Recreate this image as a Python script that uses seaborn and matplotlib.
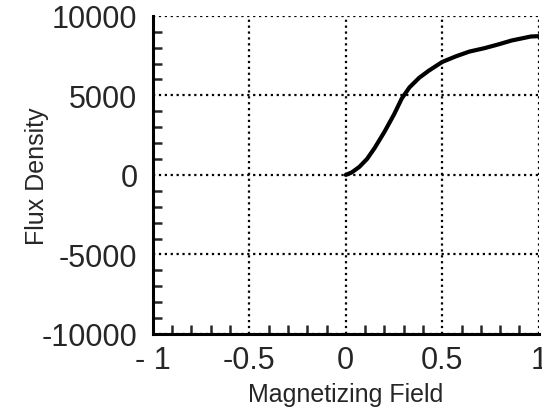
import numpy as np
import pandas as pd
import matplotlib
matplotlib.use('Agg')
import matplotlib.pyplot as plt
import seaborn as sns
from matplotlib.ticker import MultipleLocator

# values
field = [0.0, 0.03, 0.07, 0.11, 0.15, 0.20, 0.25, 0.29, 0.33, 0.38, 0.43, 0.50,
         0.57, 0.64, 0.72, 0.79, 0.86, 0.92, 0.96, 1.0]
flux = [0, 150, 500, 1000, 1700, 2700, 3800, 4800, 5500, 6100, 6550, 7100,
        7450, 7750, 7970, 8200, 8450, 8600, 8700, 8720]

x_ticks = [-1, -0.5, 0, 0.5, 1]
x_labels = ['- 1', '-0.5', '0', '0.5', '1']
y_ticks = [-10000, -5000, 0, 5000, 10000]
y_labels = ['-10000', '-5000', '0', '5000', '10000']

sns.set_style('white')
plt.rcParams['font.family'] = ['Liberation Sans', 'DejaVu Sans']

df = pd.DataFrame({'Magnetizing Field': field, 'Flux Density': flux})

fig = plt.figure(figsize=(5.42, 4.10), dpi=100)
ax = fig.add_axes([0.282, 0.183, 0.712, 0.776])
sns.lineplot(data=df, x='Magnetizing Field', y='Flux Density', color='black',
             linewidth=3, ax=ax)

ax.set_xlim(-1, 1)
ax.set_ylim(-10000, 10000)
ax.set_xticks(x_ticks)
ax.set_xticklabels(x_labels, fontsize=22)
ax.set_yticks(y_ticks)
ax.set_yticklabels(y_labels, fontsize=22)
ax.xaxis.set_minor_locator(MultipleLocator(0.1))
ax.yaxis.set_minor_locator(MultipleLocator(1000))

ax.grid(True, which='major', color='black', linestyle=':', linewidth=1.6)
for s in ['top', 'right']:
    ax.spines[s].set_visible(False)
for s in ['left', 'bottom']:
    ax.spines[s].set_linewidth(2.2)
    ax.spines[s].set_color('black')

ax.tick_params(axis='y', which='major', direction='out', length=11, width=2.2, pad=0)
ax.tick_params(axis='y', which='minor', direction='in', length=6.5, width=1.8, left=True)
ax.tick_params(axis='x', which='major', direction='inout', length=20, width=2.2, pad=-2)
ax.tick_params(axis='x', which='minor', direction='in', length=6.5, width=1.8, bottom=True)

ax.set_xlabel('Magnetizing Field', fontsize=18)
ax.set_ylabel('Flux Density', fontsize=18)
ax.xaxis.set_label_coords(0.5, -0.15)
ax.yaxis.set_label_coords(-0.27, 0.5)

fig.savefig('out.png', dpi=100)
